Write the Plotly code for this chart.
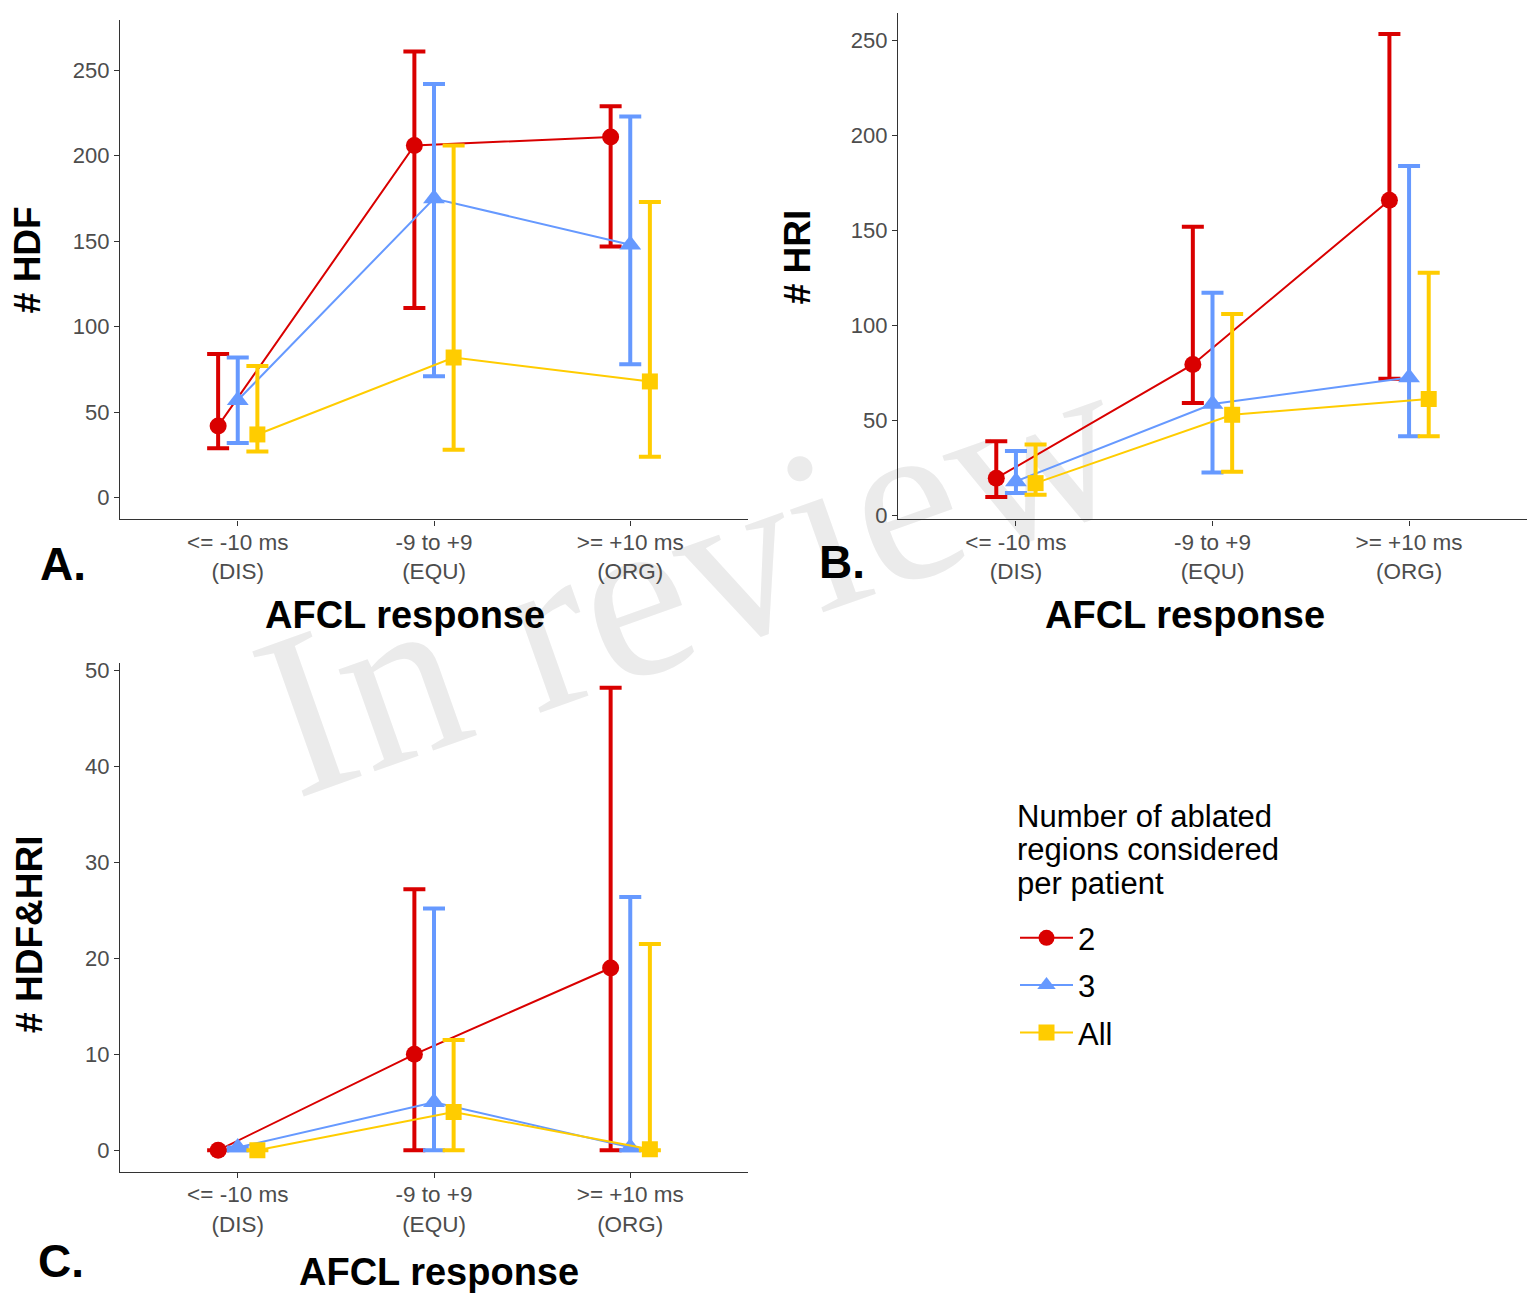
import math
import plotly.graph_objects as go

# ---------------- data ----------------
categories = ["<= -10 ms<br>(DIS)", "-9 to +9<br>(EQU)", ">= +10 ms<br>(ORG)"]
series_names = ["2", "3", "All"]
legend_title_lines = ["Number of ablated", "regions considered", "per patient"]

# Panel A: # HDF
hdf_mean_2 = [42, 206, 211]
hdf_low_2 = [29, 111, 147]
hdf_high_2 = [84, 261, 229]
hdf_mean_3 = [57, 175, 148]
hdf_low_3 = [32, 71, 78]
hdf_high_3 = [82, 242, 223]
hdf_mean_all = [37, 82, 68]
hdf_low_all = [27, 28, 24]
hdf_high_all = [77, 206, 173]

# Panel B: # HRI
hri_mean_2 = [19.6, 79.5, 166]
hri_low_2 = [9.7, 59.2, 72]
hri_high_2 = [39, 152, 253.5]
hri_mean_3 = [17.9, 58.7, 72.6]
hri_low_3 = [11.8, 22.6, 41.7]
hri_high_3 = [33.9, 117.2, 184]
hri_mean_all = [17, 53, 61.3]
hri_low_all = [10.9, 23, 41.7]
hri_high_all = [37.3, 106, 127.8]

# Panel C: # HDF&HRI
both_mean_2 = [0, 10, 19]
both_low_2 = [0, 0, 0]
both_high_2 = [0, 27.2, 48.2]
both_mean_3 = [0.3, 5.0, 0.3]
both_low_3 = [0, 0, 0]
both_high_3 = [0.3, 25.2, 26.4]
both_mean_all = [0, 4.0, 0.1]
both_low_all = [0, 0, 0]
both_high_all = [0, 11.5, 21.5]

# ---------------- styles ----------------
COLORS = ["#D90000", "#6699FF", "#FFCC00"]
SYMBOLS = ["circle", "triangle-up", "square"]
SIZES = [17, 19, 16]
DODGE = [-0.1, 0.0, 0.1]
W, H = 1538, 1305
FONT = "Liberation Sans, Arial, sans-serif"

fig = go.Figure()

panels = [
    ("x", "y", [(hdf_mean_2, hdf_low_2, hdf_high_2),
                (hdf_mean_3, hdf_low_3, hdf_high_3),
                (hdf_mean_all, hdf_low_all, hdf_high_all)]),
    ("x2", "y2", [(hri_mean_2, hri_low_2, hri_high_2),
                  (hri_mean_3, hri_low_3, hri_high_3),
                  (hri_mean_all, hri_low_all, hri_high_all)]),
    ("x3", "y3", [(both_mean_2, both_low_2, both_high_2),
                  (both_mean_3, both_low_3, both_high_3),
                  (both_mean_all, both_low_all, both_high_all)]),
]

for p, (xa, ya, series) in enumerate(panels):
    for s, (mean, low, high) in enumerate(series):
        xs = [i + 1 + DODGE[s] for i in range(len(categories))]
        fig.add_trace(go.Scatter(
            x=xs, y=mean, xaxis=xa, yaxis=ya,
            mode="lines+markers",
            name=series_names[s],
            legendgroup=series_names[s],
            showlegend=(p == 0),
            line=dict(color=COLORS[s], width=2),
            marker=dict(color=COLORS[s], symbol=SYMBOLS[s], size=SIZES[s]),
            error_y=dict(type="data", symmetric=False,
                         array=[h - m for h, m in zip(high, mean)],
                         arrayminus=[m - l for m, l in zip(mean, low)],
                         color=COLORS[s], thickness=4, width=11),
            hoverinfo="skip",
        ))


def px_x(v):
    return v / W


def px_y(v):
    return 1 - v / H


axis_common = dict(
    showline=True, linecolor="#333333", linewidth=1.3, mirror=False,
    ticks="outside", ticklen=5, tickcolor="#333333", tickwidth=1,
    showgrid=False, zeroline=False,
    tickfont=dict(family=FONT, size=22, color="#4D4D4D"),
)

xcommon = dict(axis_common, tickmode="array", tickvals=[1, 2, 3],
               ticktext=categories, range=[0.4, 3.6],
               ticklabelstandoff=-3,
               tickfont=dict(family=FONT, size=22.5, color="#4D4D4D"))

fig.update_layout(
    width=W, height=H,
    margin=dict(l=0, r=0, t=0, b=0),
    paper_bgcolor="white", plot_bgcolor="rgba(0,0,0,0)",
    xaxis=dict(xcommon, domain=[px_x(120), px_x(748)], anchor="y"),
    yaxis=dict(axis_common, domain=[px_y(520), px_y(15)], anchor="x",
               range=[-12.7, 279.5], tickvals=[0, 50, 100, 150, 200, 250]),
    xaxis2=dict(xcommon, domain=[px_x(898), px_x(1527)], anchor="y2"),
    yaxis2=dict(axis_common, domain=[px_y(520), px_y(8)], anchor="x2",
                range=[-2.1, 264.6], tickvals=[0, 50, 100, 150, 200, 250]),
    xaxis3=dict(xcommon, domain=[px_x(120), px_x(748)], anchor="y3"),
    yaxis3=dict(axis_common, domain=[px_y(1180), px_y(665)], anchor="x3",
                range=[-2.3, 50.8], tickvals=[0, 10, 20, 30, 40, 50]),
    showlegend=True,
    legend=dict(
        x=px_x(1015), y=px_y(916), xanchor="left", yanchor="top",
        font=dict(family=FONT, size=31, color="black"),
        itemwidth=53, tracegroupgap=4, bgcolor="rgba(0,0,0,0)",
    ),
)


# ---------------- titles / labels ----------------
def label(text, x, y, size, angle=0, xanchor="center"):
    fig.add_annotation(text=text, x=px_x(x), y=px_y(y), xref="paper", yref="paper",
                       showarrow=False, textangle=angle, xanchor=xanchor, yanchor="middle",
                       font=dict(family=FONT, size=size, color="black"))


label("<b>AFCL response</b>", 405, 617, 38)
label("<b>AFCL response</b>", 1185, 617, 38)
label("<b>AFCL response</b>", 439, 1281, 38)
label("<b># HDF</b>", 27, 258, 37, -90)
label("<b># HRI</b>", 797, 255, 37, -90)
label("<b># HDF&HRI</b>", 30, 940, 37, -90)
label("<b>A.</b>", 63, 565, 46)
label("<b>B.</b>", 842, 563, 46)
label("<b>C.</b>", 61, 1270, 46)
for k, line in enumerate(legend_title_lines):
    label(line, 1015, 820 + 34 * k, 31, xanchor="left")

# ---------------- watermark ----------------
cx, cy, half, ang = 682, 552, 100, 19.5
dx = half * math.cos(math.radians(ang))
dy = half * math.sin(math.radians(ang))
fig.add_shape(type="line", xref="paper", yref="paper", layer="below",
              x0=px_x(cx - dx), y0=px_y(cy + dy), x1=px_x(cx + dx), y1=px_y(cy - dy),
              line=dict(color="rgba(0,0,0,0)", width=1),
              label=dict(text="In review", textposition="middle", yanchor="middle",
                         textangle=-ang,
                         font=dict(family="Liberation Serif, Times New Roman, serif",
                                   size=235, color="#EBEBEB")))

fig.write_html("out.html")
